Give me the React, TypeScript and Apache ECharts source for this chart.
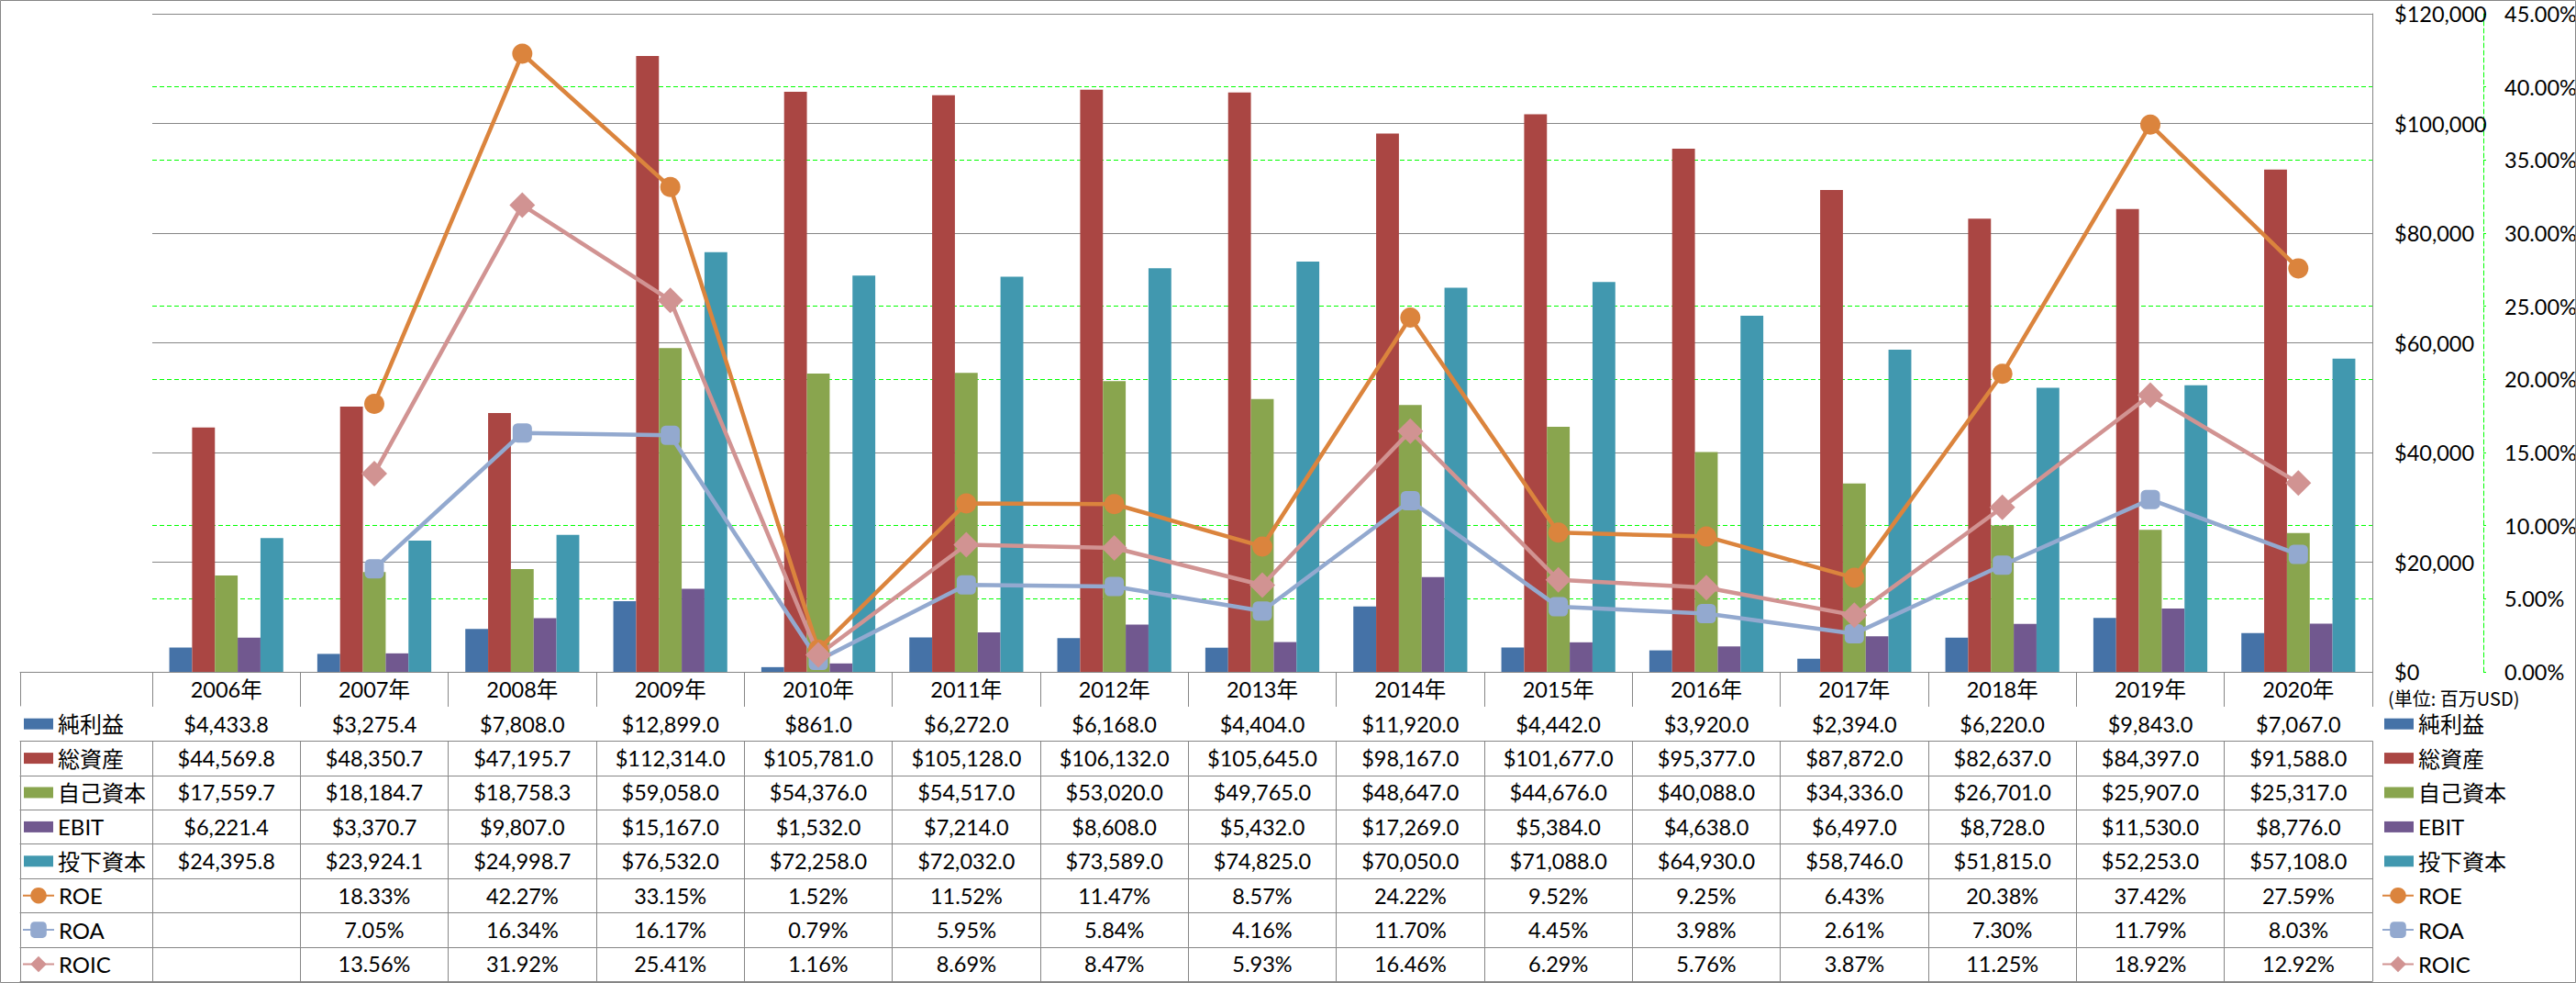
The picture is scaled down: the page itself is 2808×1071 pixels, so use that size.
import React, { useEffect, useRef } from 'react';
import * as echarts from 'echarts';

// ---------- data ----------
const categories = ['2006年', '2007年', '2008年', '2009年', '2010年', '2011年', '2012年', '2013年', '2014年', '2015年', '2016年', '2017年', '2018年', '2019年', '2020年'];
const netIncome = [4433.8, 3275.4, 7808.0, 12899.0, 861.0, 6272.0, 6168.0, 4404.0, 11920.0, 4442.0, 3920.0, 2394.0, 6220.0, 9843.0, 7067.0];
const totalAssets = [44569.8, 48350.7, 47195.7, 112314.0, 105781.0, 105128.0, 106132.0, 105645.0, 98167.0, 101677.0, 95377.0, 87872.0, 82637.0, 84397.0, 91588.0];
const equity = [17559.7, 18184.7, 18758.3, 59058.0, 54376.0, 54517.0, 53020.0, 49765.0, 48647.0, 44676.0, 40088.0, 34336.0, 26701.0, 25907.0, 25317.0];
const ebit = [6221.4, 3370.7, 9807.0, 15167.0, 1532.0, 7214.0, 8608.0, 5432.0, 17269.0, 5384.0, 4638.0, 6497.0, 8728.0, 11530.0, 8776.0];
const investedCapital = [24395.8, 23924.1, 24998.7, 76532.0, 72258.0, 72032.0, 73589.0, 74825.0, 70050.0, 71088.0, 64930.0, 58746.0, 51815.0, 52253.0, 57108.0];
const roe = [null, 18.33, 42.27, 33.15, 1.52, 11.52, 11.47, 8.57, 24.22, 9.52, 9.25, 6.43, 20.38, 37.42, 27.59];
const roa = [null, 7.05, 16.34, 16.17, 0.79, 5.95, 5.84, 4.16, 11.7, 4.45, 3.98, 2.61, 7.3, 11.79, 8.03];
const roic = [null, 13.56, 31.92, 25.41, 1.16, 8.69, 8.47, 5.93, 16.46, 6.29, 5.76, 3.87, 11.25, 18.92, 12.92];

const barNames = ['純利益', '総資産', '自己資本', 'EBIT', '投下資本'];
const barValues = [netIncome, totalAssets, equity, ebit, investedCapital];
const barColors = ['#4572A7', '#AA4643', '#89A54E', '#71588F', '#4198AF'];
const lineNames = ['ROE', 'ROA', 'ROIC'];
const lineValues = [roe, roa, roic];
const lineColors = ['#DB843D', '#93A9CF', '#D19392'];
const lineSymbols = ['circle', 'roundRect', 'diamond'];
const lineSymbolSizes = [22, 21, 28];

const unitText = '(単位: 百万USD)';

// ---------- layout ----------
const W = 2808;
const H = 1071;
const PLOT_L = 166;
const PLOT_R = 2586;
const PLOT_T = 15;
const PLOT_B = 732;
const HEADER_H = 38;
const ROW_H = 37.4;
const GRAY = '#868686';
const GREEN = '#00FF00';
const FONT = 'Lato, "Noto Sans CJK JP", sans-serif';
const CJK = '"Noto Sans CJK JP", Lato, sans-serif';
const TXT = 23.5;

const fmtMoney = (v: number | null) =>
  v == null ? '' : '$' + v.toLocaleString('en-US', { minimumFractionDigits: 1, maximumFractionDigits: 1 });
const fmtPct = (v: number | null) => (v == null ? '' : v.toFixed(2) + '%');

const tableRows = [
  ...barValues.map((vals) => ({ values: vals as (number | null)[], fmt: fmtMoney })),
  ...lineValues.map((vals) => ({ values: vals as (number | null)[], fmt: fmtPct })),
];

function buildOption() {
  const xAxes: any[] = [];
  // header row (category axis used by the bars)
  xAxes.push({
    type: 'category',
    gridIndex: 0,
    data: categories,
    position: 'bottom',
    offset: 0,
    z: 3,
    axisLine: { show: true, lineStyle: { color: GRAY, width: 1 } },
    axisTick: { show: true, length: HEADER_H, interval: 0, alignWithLabel: false, lineStyle: { color: GRAY } },
    axisLabel: { interval: 0, margin: 0, lineHeight: HEADER_H, fontSize: TXT, fontFamily: FONT, color: '#000' },
    splitLine: { show: false },
  });
  tableRows.forEach((row, k) => {
    xAxes.push({
      type: 'category',
      gridIndex: 0,
      data: categories,
      position: 'bottom',
      offset: HEADER_H + ROW_H * k,
      z: 3,
      axisLine: { show: true, lineStyle: { color: GRAY, width: 1 } },
      axisTick: { show: true, length: ROW_H, interval: 0, alignWithLabel: false, lineStyle: { color: GRAY } },
      axisLabel: {
        interval: 0,
        margin: 0,
        lineHeight: ROW_H,
        fontSize: TXT,
        fontFamily: FONT,
        color: '#000',
        formatter: (_v: string, i: number) => row.fmt(row.values[i]),
      },
      splitLine: { show: false },
    });
  });
  xAxes.push({
    type: 'category',
    gridIndex: 0,
    data: categories,
    position: 'bottom',
    offset: HEADER_H + ROW_H * tableRows.length,
    z: 3,
    axisLine: { show: true, lineStyle: { color: GRAY, width: 1 } },
    axisTick: { show: false },
    axisLabel: { show: false },
    splitLine: { show: false },
  });
  // row-label column
  tableRows.forEach((_row, k) => {
    xAxes.push({
      type: 'category',
      gridIndex: 1,
      data: [''],
      position: 'bottom',
      offset: HEADER_H + ROW_H * k,
      z: 3,
      axisLine: { show: true, lineStyle: { color: GRAY, width: 1 } },
      axisTick: { show: true, length: ROW_H, interval: 0, alignWithLabel: false, lineStyle: { color: GRAY } },
      axisLabel: { show: false },
      splitLine: { show: false },
    });
  });
  xAxes.push({
    type: 'category',
    gridIndex: 1,
    data: [''],
    position: 'bottom',
    offset: HEADER_H + ROW_H * tableRows.length,
    z: 3,
    axisLine: { show: true, lineStyle: { color: GRAY, width: 1 } },
    axisTick: { show: false },
    axisLabel: { show: false },
    splitLine: { show: false },
  });

  const legendText = { fontSize: 24, fontFamily: FONT, color: '#000', lineHeight: ROW_H };
  const legendTopLines = PLOT_B + HEADER_H + ROW_H * barNames.length;

  const legends = [
    { data: barNames, orient: 'vertical', left: 26, top: PLOT_B + HEADER_H, itemWidth: 32, itemHeight: 12, itemGap: 0, icon: 'rect', padding: 0, selectedMode: false, textStyle: legendText },
    { data: lineNames, orient: 'vertical', left: 24, top: legendTopLines, itemWidth: 34, itemHeight: 22, itemGap: 0, padding: 0, selectedMode: false, textStyle: legendText },
    { data: barNames, orient: 'vertical', left: 2599, top: PLOT_B + HEADER_H, itemWidth: 32, itemHeight: 12, itemGap: 0, icon: 'rect', padding: 0, selectedMode: false, textStyle: legendText },
    { data: lineNames, orient: 'vertical', left: 2596, top: legendTopLines, itemWidth: 34, itemHeight: 22, itemGap: 0, padding: 0, selectedMode: false, textStyle: legendText },
  ];

  const series: any[] = [];
  barNames.forEach((name, i) => {
    series.push({
      name,
      type: 'bar',
      xAxisIndex: 0,
      yAxisIndex: 0,
      data: barValues[i],
      barGap: '0%',
      barCategoryGap: '23%',
      itemStyle: { color: barColors[i] },
      z: 2,
    });
  });
  lineNames.forEach((name, i) => {
    series.push({
      name,
      type: 'line',
      xAxisIndex: 0,
      yAxisIndex: 1,
      data: lineValues[i],
      symbol: lineSymbols[i],
      symbolSize: lineSymbolSizes[i],
      showSymbol: true,
      showAllSymbol: true,
      lineStyle: { color: lineColors[i], width: 4.5 },
      itemStyle: { color: lineColors[i] },
      z: 4,
    });
  });

  return {
    animation: false,
    backgroundColor: '#ffffff',
    title: {
      text: unitText,
      left: 2603,
      top: 749,
      padding: 0,
      textStyle: { fontFamily: CJK, fontSize: 20, fontWeight: 'normal', color: '#000', lineHeight: 22 },
    },
    legend: legends,
    grid: [
      { left: PLOT_L, right: W - PLOT_R, top: PLOT_T, bottom: H - PLOT_B, containLabel: false, outerBoundsMode: 'none' },
      { left: 22, right: W - PLOT_L, top: PLOT_T, bottom: H - PLOT_B, containLabel: false, outerBoundsMode: 'none' },
    ],
    xAxis: xAxes,
    yAxis: [
      {
        type: 'value',
        gridIndex: 0,
        position: 'right',
        offset: 0,
        min: 0,
        max: 120000,
        interval: 20000,
        z: 1,
        axisLine: { show: true, lineStyle: { color: GRAY, width: 1 } },
        axisTick: { show: false },
        axisLabel: {
          margin: 24,
          fontSize: TXT,
          fontFamily: FONT,
          color: '#000',
          formatter: (v: number) => '$' + v.toLocaleString('en-US'),
        },
        splitLine: { show: true, lineStyle: { color: GRAY, width: 1 } },
      },
      {
        type: 'value',
        gridIndex: 0,
        position: 'right',
        offset: 121,
        min: 0,
        max: 45,
        interval: 5,
        z: 0,
        axisLine: { show: true, lineStyle: { color: GREEN, width: 1, type: [5, 3] } },
        axisTick: { show: true, inside: false, length: 5, lineStyle: { color: GREEN, width: 1, type: [3, 2] } },
        axisLabel: {
          margin: 23,
          fontSize: TXT,
          fontFamily: FONT,
          color: '#000',
          formatter: (v: number) => v.toFixed(2) + '%',
        },
        splitLine: { show: true, lineStyle: { color: GREEN, width: 1, type: [5, 3] } },
      },
      { type: 'value', gridIndex: 1, show: false, min: 0, max: 1 },
    ],
    series,
    graphic: [
      {
        type: 'rect',
        silent: true,
        z: 100,
        shape: { x: 0.5, y: 0.5, width: W - 1, height: H - 1 },
        style: { fill: 'none', stroke: GRAY, lineWidth: 1 },
      },
    ],
  };
}

export default function App() {
  const ref = useRef<HTMLDivElement>(null);
  useEffect(() => {
    document.body.style.margin = '0';
    if (!ref.current) return;
    const chart = echarts.init(ref.current, undefined, { renderer: 'svg' });
    chart.setOption(buildOption() as any);
    return () => chart.dispose();
  }, []);
  return <div ref={ref} style={{ width: W, height: H }} />;
}
